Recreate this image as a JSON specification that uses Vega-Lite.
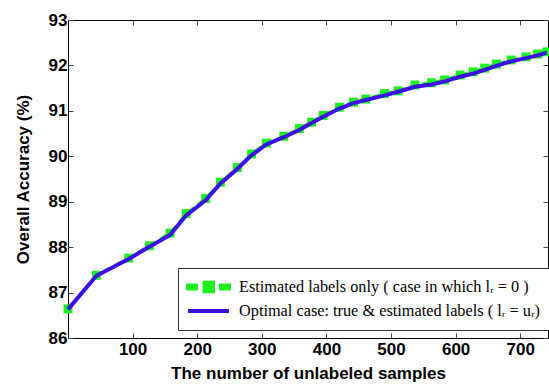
{
  "$schema": "https://vega.github.io/schema/vega-lite/v6.json",
  "width": 480,
  "height": 318,
  "autosize": {"type": "none"},
  "padding": {"left": 68, "top": 20, "right": 1, "bottom": 46},
  "background": "white",
  "config": {
    "view": {"stroke": "#000", "strokeWidth": 1},
    "axis": {
      "labelFont": "Liberation Sans", "labelFontWeight": "bold", "labelFontSize": 17, "labelColor": "#000",
      "titleFont": "Liberation Sans", "titleFontWeight": "bold", "titleFontSize": 17, "titleColor": "#000",
      "domain": false, "grid": false, "tickColor": "#444", "tickSize": -5, "tickWidth": 1
    }
  },
  "data": {
    "values": [
      {"n": 0, "acc": 86.64, "series": "Estimated labels only ( case in which lᵣ = 0 )"},
      {"n": 44, "acc": 87.38, "series": "Estimated labels only ( case in which lᵣ = 0 )"},
      {"n": 94, "acc": 87.76, "series": "Estimated labels only ( case in which lᵣ = 0 )"},
      {"n": 126, "acc": 88.03, "series": "Estimated labels only ( case in which lᵣ = 0 )"},
      {"n": 158, "acc": 88.31, "series": "Estimated labels only ( case in which lᵣ = 0 )"},
      {"n": 183, "acc": 88.74, "series": "Estimated labels only ( case in which lᵣ = 0 )"},
      {"n": 213, "acc": 89.07, "series": "Estimated labels only ( case in which lᵣ = 0 )"},
      {"n": 236, "acc": 89.43, "series": "Estimated labels only ( case in which lᵣ = 0 )"},
      {"n": 262, "acc": 89.75, "series": "Estimated labels only ( case in which lᵣ = 0 )"},
      {"n": 284, "acc": 90.05, "series": "Estimated labels only ( case in which lᵣ = 0 )"},
      {"n": 307, "acc": 90.29, "series": "Estimated labels only ( case in which lᵣ = 0 )"},
      {"n": 334, "acc": 90.44, "series": "Estimated labels only ( case in which lᵣ = 0 )"},
      {"n": 358, "acc": 90.61, "series": "Estimated labels only ( case in which lᵣ = 0 )"},
      {"n": 377, "acc": 90.75, "series": "Estimated labels only ( case in which lᵣ = 0 )"},
      {"n": 395, "acc": 90.9, "series": "Estimated labels only ( case in which lᵣ = 0 )"},
      {"n": 420, "acc": 91.08, "series": "Estimated labels only ( case in which lᵣ = 0 )"},
      {"n": 442, "acc": 91.19, "series": "Estimated labels only ( case in which lᵣ = 0 )"},
      {"n": 461, "acc": 91.26, "series": "Estimated labels only ( case in which lᵣ = 0 )"},
      {"n": 490, "acc": 91.38, "series": "Estimated labels only ( case in which lᵣ = 0 )"},
      {"n": 511, "acc": 91.44, "series": "Estimated labels only ( case in which lᵣ = 0 )"},
      {"n": 537, "acc": 91.57, "series": "Estimated labels only ( case in which lᵣ = 0 )"},
      {"n": 563, "acc": 91.62, "series": "Estimated labels only ( case in which lᵣ = 0 )"},
      {"n": 583, "acc": 91.68, "series": "Estimated labels only ( case in which lᵣ = 0 )"},
      {"n": 607, "acc": 91.79, "series": "Estimated labels only ( case in which lᵣ = 0 )"},
      {"n": 627, "acc": 91.86, "series": "Estimated labels only ( case in which lᵣ = 0 )"},
      {"n": 645, "acc": 91.94, "series": "Estimated labels only ( case in which lᵣ = 0 )"},
      {"n": 663, "acc": 92.03, "series": "Estimated labels only ( case in which lᵣ = 0 )"},
      {"n": 686, "acc": 92.12, "series": "Estimated labels only ( case in which lᵣ = 0 )"},
      {"n": 709, "acc": 92.19, "series": "Estimated labels only ( case in which lᵣ = 0 )"},
      {"n": 727, "acc": 92.25, "series": "Estimated labels only ( case in which lᵣ = 0 )"},
      {"n": 741, "acc": 92.3, "series": "Estimated labels only ( case in which lᵣ = 0 )"},
      {"n": 0, "acc": 86.63, "series": "Optimal case: true & estimated labels ( lᵣ = uᵣ)"},
      {"n": 44, "acc": 87.37, "series": "Optimal case: true & estimated labels ( lᵣ = uᵣ)"},
      {"n": 94, "acc": 87.74, "series": "Optimal case: true & estimated labels ( lᵣ = uᵣ)"},
      {"n": 126, "acc": 88.01, "series": "Optimal case: true & estimated labels ( lᵣ = uᵣ)"},
      {"n": 158, "acc": 88.27, "series": "Optimal case: true & estimated labels ( lᵣ = uᵣ)"},
      {"n": 183, "acc": 88.7, "series": "Optimal case: true & estimated labels ( lᵣ = uᵣ)"},
      {"n": 213, "acc": 89.03, "series": "Optimal case: true & estimated labels ( lᵣ = uᵣ)"},
      {"n": 236, "acc": 89.4, "series": "Optimal case: true & estimated labels ( lᵣ = uᵣ)"},
      {"n": 262, "acc": 89.72, "series": "Optimal case: true & estimated labels ( lᵣ = uᵣ)"},
      {"n": 284, "acc": 90.02, "series": "Optimal case: true & estimated labels ( lᵣ = uᵣ)"},
      {"n": 307, "acc": 90.26, "series": "Optimal case: true & estimated labels ( lᵣ = uᵣ)"},
      {"n": 334, "acc": 90.42, "series": "Optimal case: true & estimated labels ( lᵣ = uᵣ)"},
      {"n": 358, "acc": 90.58, "series": "Optimal case: true & estimated labels ( lᵣ = uᵣ)"},
      {"n": 377, "acc": 90.73, "series": "Optimal case: true & estimated labels ( lᵣ = uᵣ)"},
      {"n": 395, "acc": 90.87, "series": "Optimal case: true & estimated labels ( lᵣ = uᵣ)"},
      {"n": 420, "acc": 91.05, "series": "Optimal case: true & estimated labels ( lᵣ = uᵣ)"},
      {"n": 442, "acc": 91.17, "series": "Optimal case: true & estimated labels ( lᵣ = uᵣ)"},
      {"n": 461, "acc": 91.24, "series": "Optimal case: true & estimated labels ( lᵣ = uᵣ)"},
      {"n": 490, "acc": 91.34, "series": "Optimal case: true & estimated labels ( lᵣ = uᵣ)"},
      {"n": 511, "acc": 91.42, "series": "Optimal case: true & estimated labels ( lᵣ = uᵣ)"},
      {"n": 537, "acc": 91.53, "series": "Optimal case: true & estimated labels ( lᵣ = uᵣ)"},
      {"n": 563, "acc": 91.58, "series": "Optimal case: true & estimated labels ( lᵣ = uᵣ)"},
      {"n": 583, "acc": 91.65, "series": "Optimal case: true & estimated labels ( lᵣ = uᵣ)"},
      {"n": 607, "acc": 91.75, "series": "Optimal case: true & estimated labels ( lᵣ = uᵣ)"},
      {"n": 627, "acc": 91.82, "series": "Optimal case: true & estimated labels ( lᵣ = uᵣ)"},
      {"n": 645, "acc": 91.9, "series": "Optimal case: true & estimated labels ( lᵣ = uᵣ)"},
      {"n": 663, "acc": 91.99, "series": "Optimal case: true & estimated labels ( lᵣ = uᵣ)"},
      {"n": 686, "acc": 92.09, "series": "Optimal case: true & estimated labels ( lᵣ = uᵣ)"},
      {"n": 709, "acc": 92.16, "series": "Optimal case: true & estimated labels ( lᵣ = uᵣ)"},
      {"n": 727, "acc": 92.22, "series": "Optimal case: true & estimated labels ( lᵣ = uᵣ)"},
      {"n": 741, "acc": 92.28, "series": "Optimal case: true & estimated labels ( lᵣ = uᵣ)"}
    ]
  },
  "resolve": {"axis": {"x": "independent", "y": "independent"}},
  "layer": [
    {
      "transform": [{"filter": "indexof(datum.series, 'Estimated') === 0"}],
      "mark": {"type": "line", "strokeDash": [8, 5], "strokeWidth": 3},
      "encoding": {
        "x": {"field": "n", "type": "quantitative",
          "scale": {"domain": [0, 743], "nice": false, "zero": false},
          "axis": {"orient": "bottom", "values": [100, 200, 300, 400, 500, 600, 700], "title": "The number of unlabeled samples", "labelPadding": 8, "titlePadding": 8}},
        "y": {"field": "acc", "type": "quantitative",
          "scale": {"domain": [86, 93], "nice": false, "zero": false},
          "axis": {"orient": "left", "values": [86, 87, 88, 89, 90, 91, 92, 93], "title": "Overall Accuracy (%)", "labelPadding": 6, "titlePadding": 16}},
        "color": {"field": "series", "type": "nominal",
          "scale": {"domain": ["Estimated labels only ( case in which lᵣ = 0 )", "Optimal case: true & estimated labels ( lᵣ = uᵣ)"], "range": ["#1ef01e", "#3a10e5"]},
          "legend": {
            "orient": "none", "legendX": 110, "legendY": 248, "title": null,
            "labelFont": "Liberation Serif, Times New Roman, serif", "labelFontSize": 16.3, "labelFontWeight": "normal", "labelColor": "#000",
            "labelLimit": 600, "labelOffset": 33,
            "symbolSize": 196, "symbolStrokeWidth": 4,
            "rowPadding": 2, "padding": 10,
            "strokeColor": "#333", "fillColor": "white",
            "encode": {"symbols": {"update": {
              "shape": {"signal": "datum.index === 0 ? 'M-1.286,-0.21H-0.143V0.21H-1.286Z M1.071,-0.6H2.286V0.6H1.071Z M3.429,-0.21H4.571V0.21H3.429Z' : 'M-1.286,0H4.571'"},
              "fill": {"signal": "datum.index === 0 ? '#1ef01e' : 'transparent'"},
              "stroke": {"signal": "datum.index === 0 ? 'transparent' : '#3a10e5'"},
              "strokeWidth": {"value": 4},
              "strokeDash": {"value": []},
              "opacity": {"value": 1}
            }}}
          }}
      }
    },
    {
      "transform": [{"filter": "indexof(datum.series, 'Estimated') === 0"}],
      "mark": {"type": "point", "shape": "square", "filled": true, "size": 80, "opacity": 1},
      "encoding": {
        "x": {"field": "n", "type": "quantitative",
          "axis": {"orient": "top", "values": [100, 200, 300, 400, 500, 600, 700], "labels": false, "title": null}},
        "y": {"field": "acc", "type": "quantitative",
          "axis": {"orient": "right", "values": [86, 87, 88, 89, 90, 91, 92, 93], "labels": false, "title": null}},
        "color": {"field": "series", "type": "nominal"}
      }
    },
    {
      "transform": [{"filter": "indexof(datum.series, 'Optimal') === 0"}],
      "mark": {"type": "line", "strokeWidth": 4},
      "encoding": {
        "x": {"field": "n", "type": "quantitative", "axis": null},
        "y": {"field": "acc", "type": "quantitative", "axis": null},
        "color": {"field": "series", "type": "nominal"}
      }
    }
  ]
}
